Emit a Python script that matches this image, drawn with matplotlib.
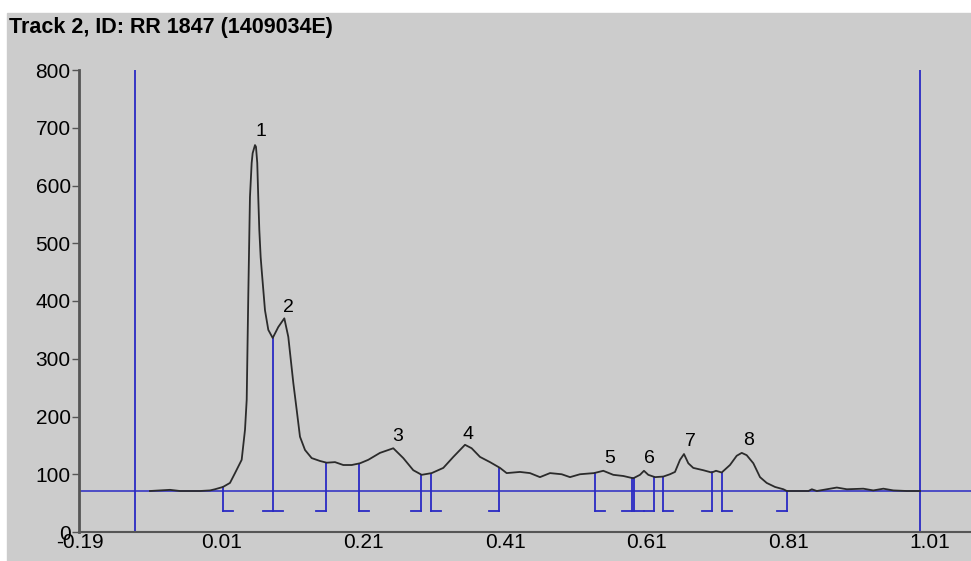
import matplotlib
matplotlib.use('Agg')
import matplotlib.pyplot as plt
from matplotlib.patches import Rectangle

plt.rcParams['font.family'] = ['Liberation Sans', 'DejaVu Sans']

# densitometer trace
trace_x = [-0.0912, -0.0771, -0.0630, -0.0489, -0.0347, -0.0206, -0.0065, 0.0005,
           0.0118, 0.0217, 0.0288, 0.0382, 0.0429, 0.0453, 0.0475, 0.0499, 0.0523,
           0.0537, 0.0570, 0.0584, 0.0602, 0.0616, 0.0631, 0.0650, 0.0664, 0.0711,
           0.0758, 0.0820, 0.0899, 0.0984,
           0.1040, 0.1111, 0.1159, 0.1205, 0.1276, 0.1370, 0.1487, 0.1582, 0.1699,
           0.1816, 0.1935, 0.2052, 0.2169, 0.2334, 0.2522, 0.2663, 0.2804, 0.2923,
           0.3064, 0.3228, 0.3369, 0.3534, 0.3628, 0.3746, 0.3887, 0.4028, 0.4122,
           0.4310, 0.4451, 0.4592, 0.4734, 0.4899, 0.5016, 0.5157, 0.5355, 0.5486,
           0.5627, 0.5768, 0.5909, 0.6004, 0.6060, 0.6121, 0.6216, 0.6333, 0.6427,
           0.6498, 0.6569, 0.6625, 0.6686, 0.6756, 0.6897, 0.7016, 0.7077, 0.7157,
           0.7274, 0.7369, 0.7440, 0.7510, 0.7604, 0.7698, 0.7792, 0.7910, 0.8028,
           0.8076, 0.8269, 0.8382, 0.8429, 0.8500, 0.8641, 0.8782, 0.8924, 0.9156,
           0.9297, 0.9439, 0.9580, 0.9768, 0.9956]
trace_y = [71, 72, 73, 71, 71, 71, 72, 74,
           78, 85, 102, 125, 177, 229, 407, 580, 639,
           656, 670, 667, 639, 580, 523, 476, 454, 384,
           350, 336, 355, 370,
           338, 258, 211, 165, 142, 128, 123, 120, 121,
           116, 116, 119, 125, 137, 145, 128, 107, 99,
           102, 111, 130, 151, 145, 130, 121, 111, 102,
           104, 102, 95, 102, 100, 95, 100, 102, 106,
           99, 97, 93, 99, 106, 99, 95, 96, 100,
           104, 125, 135, 119, 111, 107, 103, 106, 103,
           116, 132, 137, 133, 119, 95, 85, 78, 74,
           71, 71, 71, 74, 71, 74, 77, 74, 75,
           72, 75, 72, 71, 71]

baseline = 71
bound_left = -0.112
bound_right = 0.995

# peak boundary marks: position, height of the trace, foot side
mark_x = [0.012, 0.082, 0.157, 0.204, 0.291, 0.305, 0.401, 0.537,
          0.589, 0.592, 0.620, 0.633, 0.702, 0.716, 0.808]
mark_top = [78, 336, 120, 118, 99, 101, 110, 102,
            93, 93, 95, 96, 104, 103, 71]
mark_side = ['r', 'both', 'l', 'r', 'l', 'r', 'l', 'r',
             'l', 'r', 'l', 'r', 'l', 'r', 'l']
mark_bottom = 36
foot = 0.014

peak_labels = ['1', '2', '3', '4', '5', '6', '7', '8']
label_x = [0.066, 0.104, 0.259, 0.358, 0.557, 0.614, 0.672, 0.753]
label_y = [693, 388, 165, 168, 128, 128, 157, 158]

xticks = [-0.19, 0.01, 0.21, 0.41, 0.61, 0.81, 1.01]
yticks = [0, 100, 200, 300, 400, 500, 600, 700, 800]

blue = '#2a2ac4'
bg = '#cccccc'

fig = plt.figure(figsize=(9.71, 5.61), dpi=100, facecolor='white')
fig.patches.append(Rectangle((7 / 971, 0), 1, (561 - 13) / 561,
                             transform=fig.transFigure, color=bg, zorder=-10))
fig.text(9 / 971, 1 - 28 / 561, 'Track 2, ID: RR 1847 (1409034E)',
         fontsize=15.5, fontweight='bold', va='center', ha='left')

ax = fig.add_axes([79 / 971, (561 - 532) / 561, (971 - 79) / 971, (532 - 70) / 561])
ax.set_zorder(1)
ax.set_facecolor(bg)
ax.set_xlim(-0.1914, 1.0676)
ax.set_ylim(0, 800)

ax.axhline(baseline, color=blue, lw=1.1, zorder=2)
ax.vlines([bound_left, bound_right], 0, 800, color=blue, lw=1.3, zorder=2)

for x, top, side in zip(mark_x, mark_top, mark_side):
    ax.plot([x, x], [mark_bottom, top], color=blue, lw=1.3, zorder=2)
    if side in ('r', 'both'):
        ax.plot([x, x + foot], [mark_bottom, mark_bottom], color=blue, lw=1.3, zorder=2)
    if side in ('l', 'both'):
        ax.plot([x - foot, x], [mark_bottom, mark_bottom], color=blue, lw=1.3, zorder=2)

ax.plot(trace_x, trace_y, color='#2b2b2b', lw=1.3, zorder=3)

for t, x, y in zip(peak_labels, label_x, label_y):
    ax.text(x, y, t, fontsize=14, ha='center', va='center')

for s in ['top', 'right']:
    ax.spines[s].set_visible(False)
ax.spines['left'].set_color('#555555')
ax.spines['left'].set_linewidth(2)
ax.spines['bottom'].set_color('#555555')
ax.spines['bottom'].set_linewidth(1.5)

ax.set_xticks(xticks)
ax.set_xticklabels(['%.2f' % v for v in xticks])
ax.set_yticks(yticks)
ax.tick_params(axis='x', length=0, labelsize=15, pad=1)
ax.tick_params(axis='y', length=5, width=1, color='#555555', labelsize=15, pad=1)

fig.savefig('out.png', dpi=100, facecolor=fig.get_facecolor())
